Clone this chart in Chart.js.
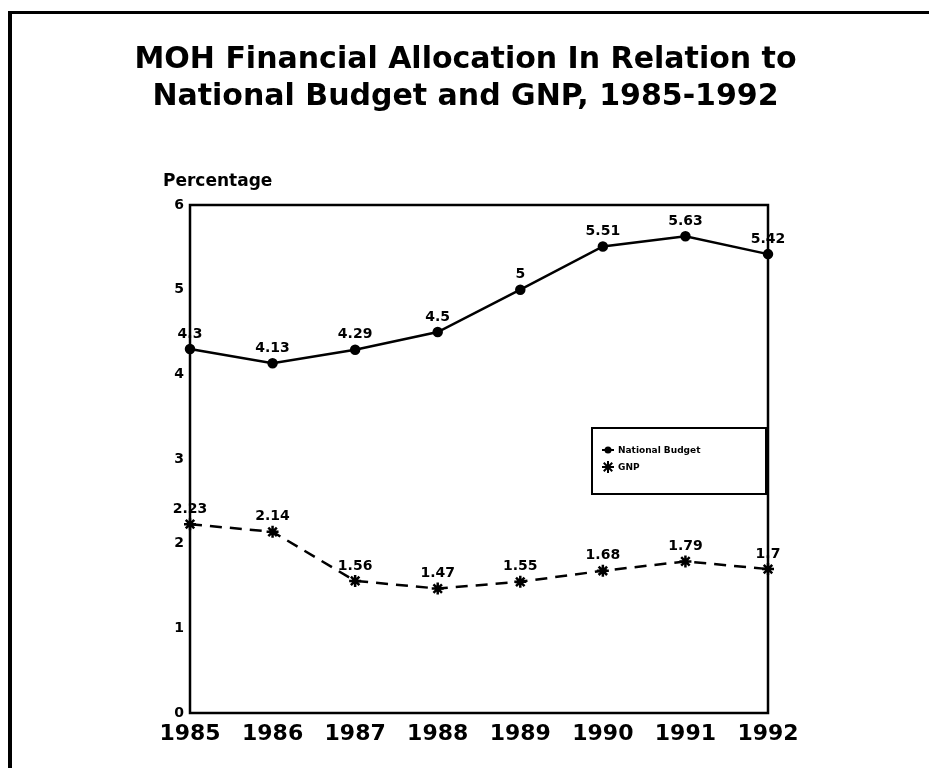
<!DOCTYPE html>
<html>
<head>
<meta charset="utf-8">
<script src="https://cdn.jsdelivr.net/npm/chart.js@4.4.0/dist/chart.umd.min.js"></script>
<style>
  html, body { margin: 0; padding: 0; background: #fff; }
  #wrap { width: 929px; height: 768px; }
</style>
</head>
<body>
<div id="wrap"><canvas id="mohChart" width="929" height="768"></canvas></div>
<script>
const years = ['1985', '1986', '1987', '1988', '1989', '1990', '1991', '1992'];
const nationalBudget = [4.3, 4.13, 4.29, 4.5, 5, 5.51, 5.63, 5.42];
const gnp = [2.23, 2.14, 1.56, 1.47, 1.55, 1.68, 1.79, 1.7];
const yTicks = [0, 1, 2, 3, 4, 5, 6];
const titleLines = ['MOH Financial Allocation In Relation to', 'National Budget and GNP, 1985-1992'];
const yLabel = 'Percentage';

const FONT = "'DejaVu Sans', sans-serif";

// page frame, title, plot box, value labels, axis caption and the legend box
const decorations = {
    id: 'decorations',
    beforeDraw(chart) {
        const ctx = chart.ctx;
        ctx.save();
        ctx.fillStyle = '#000';
        ctx.fillRect(8, 11, 4, chart.height - 11);
        ctx.fillRect(8, 11, chart.width - 8, 3);

        // title is drawn here so it is not squeezed into the padded box
        ctx.font = 'bold 30px ' + FONT;
        ctx.textAlign = 'center';
        ctx.textBaseline = 'middle';
        titleLines.forEach((line, i) => {
            ctx.fillText(line, chart.width / 2 + 1, 60 + i * 37);
        });
        ctx.restore();
    },
    afterDatasetsDraw(chart) {
        const ctx = chart.ctx;
        const a = chart.chartArea;
        ctx.save();
        ctx.strokeStyle = '#000';
        ctx.lineWidth = 2.5;
        ctx.strokeRect(a.left, a.top, a.right - a.left, a.bottom - a.top);

        // values above each point
        ctx.fillStyle = '#000';
        ctx.font = 'bold 14px ' + FONT;
        ctx.textAlign = 'center';
        ctx.textBaseline = 'middle';
        chart.data.datasets.forEach((ds, i) => {
            chart.getDatasetMeta(i).data.forEach((pt, j) => {
                ctx.fillText(String(ds.data[j]), pt.x, pt.y - 15);
            });
        });

        // axis caption
        ctx.font = 'bold 17px ' + FONT;
        ctx.textAlign = 'left';
        ctx.fillText(yLabel, a.left - 27, a.top - 23);

        // legend box
        const bx = a.right - 176, by = a.top + 223, bw = 174, bh = 66;
        ctx.lineWidth = 2;
        ctx.strokeRect(bx, by, bw, bh);
        ctx.font = 'bold 9px ' + FONT;
        chart.data.datasets.forEach((ds, i) => {
            const cy = by + 22 + i * 17;
            const cx = bx + 16;
            ctx.lineWidth = 2;
            ctx.setLineDash([]);
            if (ds.pointStyle === 'star') {
                const r = 6;
                ctx.beginPath();
                for (let k = 0; k < 4; k++) {
                    const ang = k * Math.PI / 4;
                    ctx.moveTo(cx - r * Math.cos(ang), cy - r * Math.sin(ang));
                    ctx.lineTo(cx + r * Math.cos(ang), cy + r * Math.sin(ang));
                }
                ctx.stroke();
            } else {
                ctx.beginPath();
                ctx.moveTo(cx - 6, cy);
                ctx.lineTo(cx + 6, cy);
                ctx.stroke();
                ctx.beginPath();
                ctx.arc(cx, cy, 3.5, 0, Math.PI * 2);
                ctx.fill();
            }
            ctx.fillText(ds.label, cx + 10, cy + 1);
        });
        ctx.restore();
    }
};

new Chart(document.getElementById('mohChart').getContext('2d'), {
    type: 'line',
    data: {
        labels: years,
        datasets: [
            {
                label: 'National Budget',
                data: nationalBudget,
                borderColor: '#000',
                backgroundColor: '#000',
                borderWidth: 2.5,
                pointStyle: 'circle',
                pointRadius: 4,
                pointBackgroundColor: '#000',
                tension: 0,
                clip: false
            },
            {
                label: 'GNP',
                data: gnp,
                borderColor: '#000',
                backgroundColor: '#000',
                borderWidth: 2.5,
                borderDash: [12, 8],
                pointStyle: 'star',
                pointRadius: 6,
                pointBorderWidth: 2.5,
                tension: 0,
                clip: false
            }
        ]
    },
    options: {
        responsive: false,
        animation: false,
        layout: { padding: { left: 150, right: 161, top: 205, bottom: 15 } },
        scales: {
            x: {
                offset: false,
                grid: { display: false, drawTicks: false },
                border: { display: false },
                ticks: {
                    color: '#000',
                    padding: 8,
                    maxRotation: 0,
                    font: { family: FONT, size: 22, weight: 'bold' }
                },
                afterFit(s) { s.height = 40; }
            },
            y: {
                min: 0,
                max: 6,
                grid: { display: false, drawTicks: false },
                border: { display: false },
                afterBuildTicks(s) { s.ticks = yTicks.map(v => ({ value: v })); },
                ticks: {
                    color: '#000',
                    padding: 6,
                    font: { family: FONT, size: 14, weight: 'bold' }
                },
                afterFit(s) { s.width = 40; }
            }
        },
        plugins: {
            legend: { display: false },
            tooltip: { enabled: false },
            title: { display: false }
        }
    },
    plugins: [decorations]
});
</script>
</body>
</html>
